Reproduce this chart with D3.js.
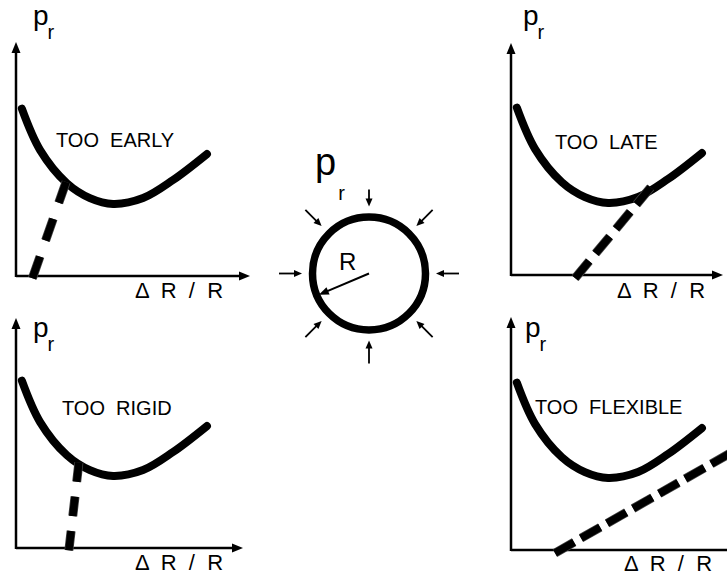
<!DOCTYPE html>
<html>
<head>
<meta charset="utf-8">
<script src="https://cdn.jsdelivr.net/npm/d3@7"></script>
<style>
  html, body { margin: 0; padding: 0; background: #fff; }
  svg { display: block; font-family: "Liberation Sans", Arial, sans-serif; }
  text { white-space: pre; fill: #000; }
</style>
</head>
<body>
<svg id="chart" width="727" height="575"></svg>
<script>
// ---- data (arbitrary units, domain 0..10 on both axes) ----
const curveX = [0.25, 1.03, 2.17, 3.16, 4.15, 5.43, 6.71, 8.16];   // ΔR/R
const curveY = [7.15, 5.38, 3.97, 3.33, 3.08, 3.33, 4.10, 5.21];   // p_r (ground reaction)
const panelTitles = ["TOO  EARLY", "TOO  LATE", "TOO  RIGID", "TOO  FLEXIBLE"];
const supportX0 = [0.70, 2.74, 2.26, 1.88];
const supportY0 = [-0.10, -0.13, -0.10, -0.13];
const supportX1 = [2.14, 5.98, 2.69, 9.60];
const supportY1 = [4.02, 3.76, 3.68, 4.27];
const xAxisLabel = "\u0394  R  /  R";
const yAxisLabel = "p";
const yAxisSub = "r";
const pressureAngles = [-90, -45, 0, 45, 90, 135, 180, -135];   // degrees, directions of radial load

// ---- layout ----
const panels = [
  {ox: 16,  oy: 276, xLen: 234, yLen: 234, titleX: 56,  titleY: 147, xlX: 135, xlY: 298, pX: 33,  pY: 25,  dash: "23,17"},
  {ox: 511, oy: 275, xLen: 212, yLen: 232, titleX: 555, titleY: 149, xlX: 617, xlY: 298, pX: 523, pY: 25,  dash: "22,10"},
  {ox: 16,  oy: 548, xLen: 227, yLen: 230, titleX: 62,  titleY: 415, xlX: 135, xlY: 570, pX: 33,  pY: 337, dash: "19.5,15"},
  {ox: 511, oy: 550, xLen: 230, yLen: 233, titleX: 535, titleY: 414, xlX: 624, xlY: 571, pX: 525, pY: 337, dash: "22,8"}
];
const unit = 23.4;

const svg = d3.select("#chart");
svg.append("rect").attr("width", 727).attr("height", 575).attr("fill", "#fff");

const curveData = curveX.map((x, i) => [x, curveY[i]]);

function arrowHead(g, x, y, angleDeg, len, half) {
  const a = angleDeg * Math.PI / 180;
  const ux = Math.cos(a), uy = Math.sin(a);
  const bx = x - ux * len, by = y - uy * len;
  const pts = [[x, y], [bx - uy * half, by + ux * half], [bx + uy * half, by - ux * half]];
  g.append("path").attr("d", "M" + pts.map(p => p.join(",")).join("L") + "Z").attr("fill", "#000");
}

panels.forEach((p, i) => {
  const g = svg.append("g");
  const x = d3.scaleLinear().domain([0, 10]).range([p.ox, p.ox + 10 * unit]);
  const y = d3.scaleLinear().domain([0, 10]).range([p.oy, p.oy - 10 * unit]);

  // axes
  g.append("line").attr("x1", p.ox).attr("y1", p.oy).attr("x2", p.ox + p.xLen - 6).attr("y2", p.oy)
    .attr("stroke", "#000").attr("stroke-width", 2.5);
  g.append("line").attr("x1", p.ox).attr("y1", p.oy + 1).attr("x2", p.ox).attr("y2", p.oy - p.yLen + 6)
    .attr("stroke", "#000").attr("stroke-width", 2.5);
  arrowHead(g, p.ox + p.xLen, p.oy, 0, 11, 4.5);
  arrowHead(g, p.ox, p.oy - p.yLen, -90, 11, 4.5);

  // ground reaction curve
  const line = d3.line().x(d => x(d[0])).y(d => y(d[1])).curve(d3.curveCatmullRom.alpha(0.5));
  g.append("path").datum(curveData).attr("d", line)
    .attr("fill", "none").attr("stroke", "#000").attr("stroke-width", 8)
    .attr("stroke-linecap", "round").attr("stroke-linejoin", "round");

  // support line (dashed)
  g.append("line")
    .attr("x1", x(supportX0[i])).attr("y1", y(supportY0[i]))
    .attr("x2", x(supportX1[i])).attr("y2", y(supportY1[i]))
    .attr("stroke", "#444").attr("stroke-width", 9).attr("stroke-dasharray", p.dash);
  g.append("line")
    .attr("x1", x(supportX0[i])).attr("y1", y(supportY0[i]))
    .attr("x2", x(supportX1[i])).attr("y2", y(supportY1[i]))
    .attr("stroke", "#000").attr("stroke-width", 7.5).attr("stroke-dasharray", p.dash);

  // texts
  g.append("text").attr("x", p.titleX).attr("y", p.titleY).attr("font-size", 20).text(panelTitles[i]);
  g.append("text").attr("x", p.xlX).attr("y", p.xlY).attr("font-size", 22).text(xAxisLabel);
  const t = g.append("text").attr("x", p.pX).attr("y", p.pY).attr("font-size", 28);
  t.append("tspan").text(yAxisLabel);
  t.append("tspan").attr("font-size", 20).attr("dy", 14).attr("dx", -1).text(yAxisSub);
});

// ---- central tunnel sketch ----
const cx = 369, cy = 273.5, rad = 56.5;
const c = svg.append("g");
c.append("circle").attr("cx", cx).attr("cy", cy).attr("r", rad)
  .attr("fill", "none").attr("stroke", "#000").attr("stroke-width", 7.5);

// radius arrow
const radAng = 157;
const rx = cx + Math.cos(radAng * Math.PI / 180) * (rad - 2);
const ry = cy + Math.sin(radAng * Math.PI / 180) * (rad - 2);
c.append("line").attr("x1", cx).attr("y1", cy).attr("x2", rx + Math.cos(radAng * Math.PI / 180) * -8)
  .attr("y2", ry + Math.sin(radAng * Math.PI / 180) * -8).attr("stroke", "#000").attr("stroke-width", 2);
arrowHead(c, rx, ry, radAng, 10, 4);
c.append("text").attr("x", 339).attr("y", 270).attr("font-size", 24).text("R");

// pressure arrows
pressureAngles.forEach(a => {
  const r0 = a === -90 ? 84 : 90, r1 = 67;
  const rr = a * Math.PI / 180;
  const tx = cx + Math.cos(rr) * r1, ty = cy + Math.sin(rr) * r1;
  const sx = cx + Math.cos(rr) * r0, sy = cy + Math.sin(rr) * r0;
  const ang = a + 180;
  c.append("line").attr("x1", sx).attr("y1", sy)
    .attr("x2", tx - Math.cos(ang * Math.PI / 180) * 4).attr("y2", ty - Math.sin(ang * Math.PI / 180) * 4)
    .attr("stroke", "#000").attr("stroke-width", 1.8);
  arrowHead(c, tx, ty, ang, 8, 3.5);
});

const pt = c.append("text").attr("x", 315).attr("y", 175).attr("font-size", 38);
pt.append("tspan").text("p");
pt.append("tspan").attr("font-size", 20).attr("dy", 25).attr("dx", 2).text("r");
</script>
</body>
</html>
